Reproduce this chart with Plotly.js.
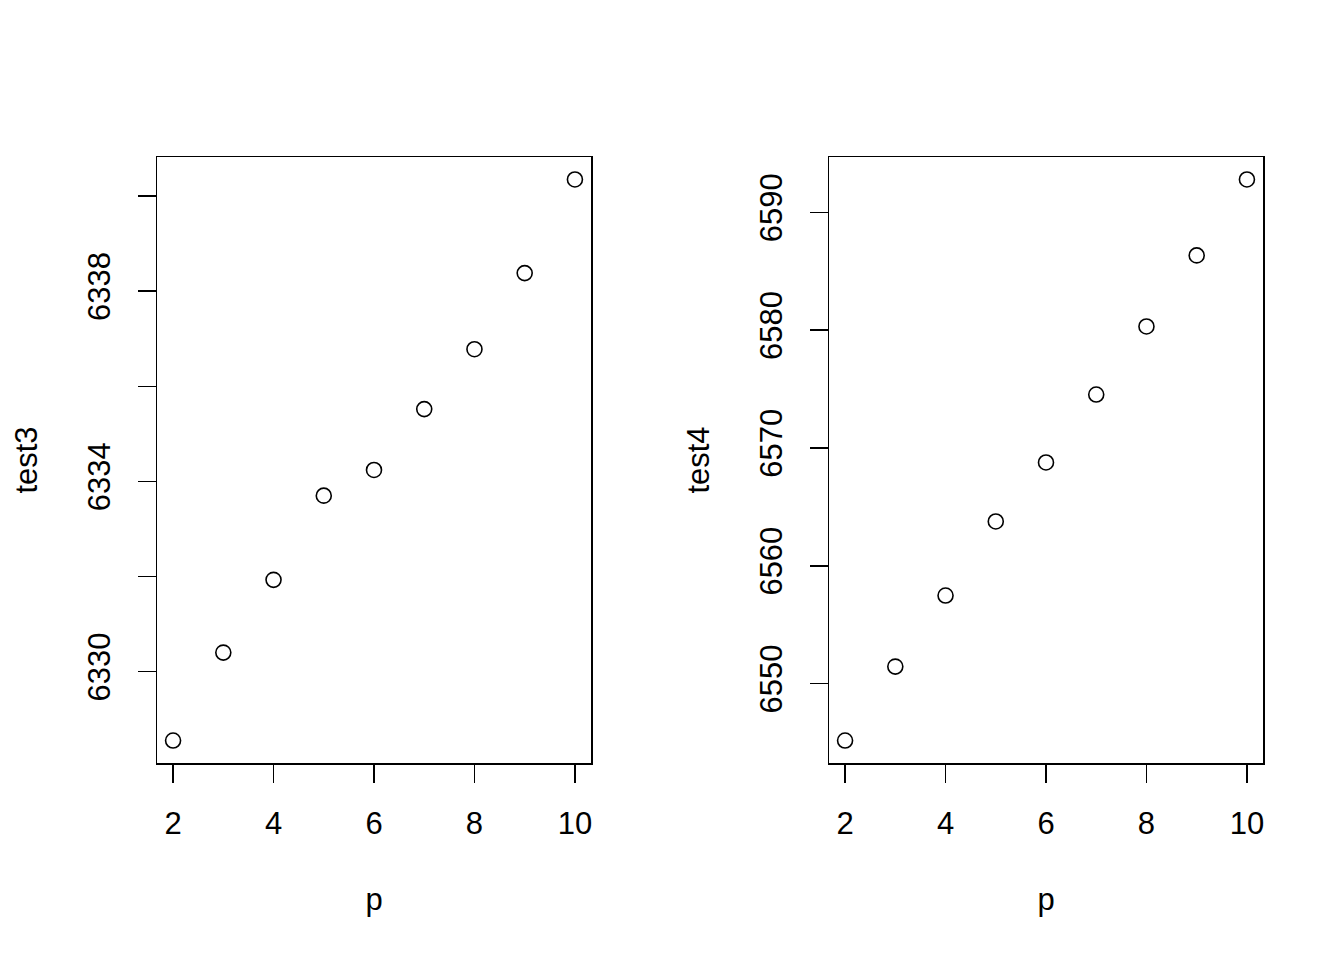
<!DOCTYPE html>
<html>
<head>
<meta charset="utf-8">
<script src="https://cdn.plot.ly/plotly-3.0.1.min.js"></script>
<style>html,body{margin:0;padding:0;background:#fff;}#chart{width:1344px;height:960px;}</style>
</head>
<body>
<div id="chart"></div>
<script>
const p = [2, 3, 4, 5, 6, 7, 8, 9, 10];
const test3 = [6328.55, 6330.40, 6331.93, 6333.70, 6334.24, 6335.52, 6336.78, 6338.38, 6340.35];
const test4 = [6545.16, 6551.44, 6557.47, 6563.76, 6568.77, 6574.54, 6580.32, 6586.35, 6592.80];
const xTicks = [2, 4, 6, 8, 10];
const y3Ticks = [6330, 6332, 6334, 6336, 6338, 6340];
const y3Labels = ["6330", "", "6334", "", "6338", ""];
const y4Ticks = [6550, 6560, 6570, 6580, 6590];

function pad(arr) {
  const mn = Math.min(...arr), mx = Math.max(...arr);
  const d = (mx - mn) * 0.04;
  return [mn - d, mx + d];
}

const font = {family: "Liberation Sans, Arial, Helvetica, sans-serif", size: 31, color: "#000"};
const marker = {symbol: "circle-open", size: 15, color: "#000", line: {width: 1.6, color: "#000"}};

const traces = [
  {x: p, y: test3, type: "scatter", mode: "markers", marker: marker, xaxis: "x", yaxis: "y", hoverinfo: "x+y"},
  {x: p, y: test4, type: "scatter", mode: "markers", marker: marker, xaxis: "x2", yaxis: "y2", hoverinfo: "x+y"}
];

const H = 960, W = 1344;
const yDom = [1 - 763 / H, 1 - 157 / H];

function xax(dom) {
  return {
    domain: dom, range: pad(p), tickvals: xTicks, ticktext: xTicks.map(String),
    ticks: "outside", ticklen: 18, tickwidth: 1.5, tickcolor: "#000",
    showline: true, mirror: true, linewidth: 1.5, linecolor: "#000",
    showgrid: false, zeroline: false, tickfont: font, ticklabelstandoff: 14,
    title: {text: "p", font: font, standoff: 48}, automargin: false, fixedrange: true
  };
}
function yax(vals, labels, data) {
  return {
    domain: yDom, range: pad(data), tickvals: vals, ticktext: labels,
    ticks: "outside", ticklen: 18, tickwidth: 1.5, tickcolor: "#000", tickangle: -90,
    showline: true, mirror: true, linewidth: 1.5, linecolor: "#000",
    showgrid: false, zeroline: false, tickfont: font, ticklabelstandoff: 15,
    automargin: false, fixedrange: true
  };
}

const layout = {
  width: W, height: H, margin: {l: 0, r: 0, t: 0, b: 0},
  paper_bgcolor: "#fff", plot_bgcolor: "#fff", showlegend: false,
  font: font,
  xaxis: xax([157 / W, 591 / W]),
  xaxis2: Object.assign(xax([829 / W, 1263 / W]), {anchor: "y2"}),
  yaxis: Object.assign(yax(y3Ticks, y3Labels, test3), {anchor: "x", title: {text: "test3", font: font, standoff: 35}}),
  yaxis2: Object.assign(yax(y4Ticks, y4Ticks.map(String), test4), {anchor: "x2", title: {text: "test4", font: font, standoff: 35}})
};
layout.xaxis.anchor = "y";

Plotly.newPlot("chart", traces, layout, {displayModeBar: false, staticPlot: true});
</script>
</body>
</html>
